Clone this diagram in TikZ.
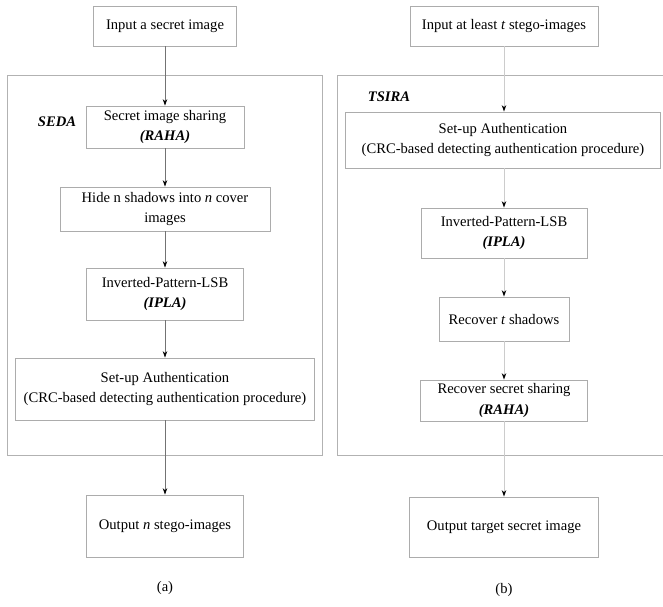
\documentclass[tikz,border=0pt]{standalone}
\usepackage{fontspec}
\setmainfont{Liberation Serif}
\usepackage{tikz}
\usetikzlibrary{arrows.meta}

\begin{document}
\begin{tikzpicture}[x=1pt, y=-1pt,
  box/.style={draw=gray!65, line width=0.8pt, inner sep=0pt, align=center,
    font=\fontsize{14.6}{20.5}\selectfont},
  panel/.style={draw=gray!60, line width=0.9pt, inner sep=0pt},
  tag/.style={font=\fontsize{14.6}{16}\selectfont\bfseries\itshape},
  caption/.style={font=\fontsize{14.6}{16}\selectfont},
  flowA/.style={draw=black!55, line width=0.7pt, -{Stealth[length=6.5pt,width=4.5pt,black]}},
  flowB/.style={draw=gray!40, line width=1pt, -{Stealth[length=6.5pt,width=4.5pt,black]}}]
  \useasboundingbox (0,0) rectangle (663,606);

  % (a)
  \node[panel, minimum width=315, minimum height=380] (frameA) at (164.5,265) {};
  \node[box, minimum width=143, minimum height=40] (inA) at (165,26) {Input a secret image};
  \node[tag] (seda) at (57,122) {SEDA};
  \node[box, minimum width=158, minimum height=42] (secA) at (165,127)
    {Secret image sharing\\\textbf{\textit{(RAHA)}}};
  \node[box, minimum width=210, minimum height=44] (hideA) at (165,209)
    {Hide n shadows into \textit{n} cover\\images};
  \node[box, minimum width=157, minimum height=52] (iplaA) at (165,294)
    {Inverted-Pattern-LSB\\\textbf{\textit{(IPLA)}}};
  \node[box, minimum width=299, minimum height=62] (authA) at (165,389)
    {Set-up Authentication\\(CRC-based detecting authentication procedure)};
  \node[box, minimum width=157, minimum height=62] (outA) at (165,526)
    {Output \textit{n} stego-images};
  \node[caption] (capA) at (165,588) {(a)};
  \draw[flowA] (inA) -- (secA);
  \draw[flowA] (secA) -- (hideA);
  \draw[flowA] (hideA) -- (iplaA);
  \draw[flowA] (iplaA) -- (authA);
  \draw[flowA] (authA) -- (outA);

  % (b)
  \node[panel, minimum width=326, minimum height=380] (frameB) at (500.5,265) {};
  \node[box, minimum width=188, minimum height=40] (inB) at (504,26)
    {Input at least \textit{t} stego-images};
  \node[tag] (tsira) at (389,97) {TSIRA};
  \node[box, minimum width=315, minimum height=56] (authB) at (503,140)
    {Set-up Authentication\\(CRC-based detecting authentication procedure)};
  \node[box, minimum width=166, minimum height=50] (iplaB) at (504,233)
    {Inverted-Pattern-LSB\\\textbf{\textit{(IPLA)}}};
  \node[box, minimum width=130, minimum height=44] (recB) at (504,319)
    {Recover \textit{t} shadows};
  \node[box, minimum width=167, minimum height=41] (rahaB) at (504,400.5)
    {Recover secret sharing\\\textbf{\textit{(RAHA)}}};
  \node[box, minimum width=189, minimum height=60] (outB) at (504,527)
    {Output target secret image};
  \node[caption] (capB) at (504,590) {(b)};
  \draw[flowB] (inB) -- (inB |- authB.north);
  \draw[flowB] (authB.south -| iplaB) -- (iplaB);
  \draw[flowB] (iplaB) -- (recB);
  \draw[flowB] (recB) -- (rahaB);
  \draw[flowB] (rahaB) -- (outB);
\end{tikzpicture}
\end{document}
